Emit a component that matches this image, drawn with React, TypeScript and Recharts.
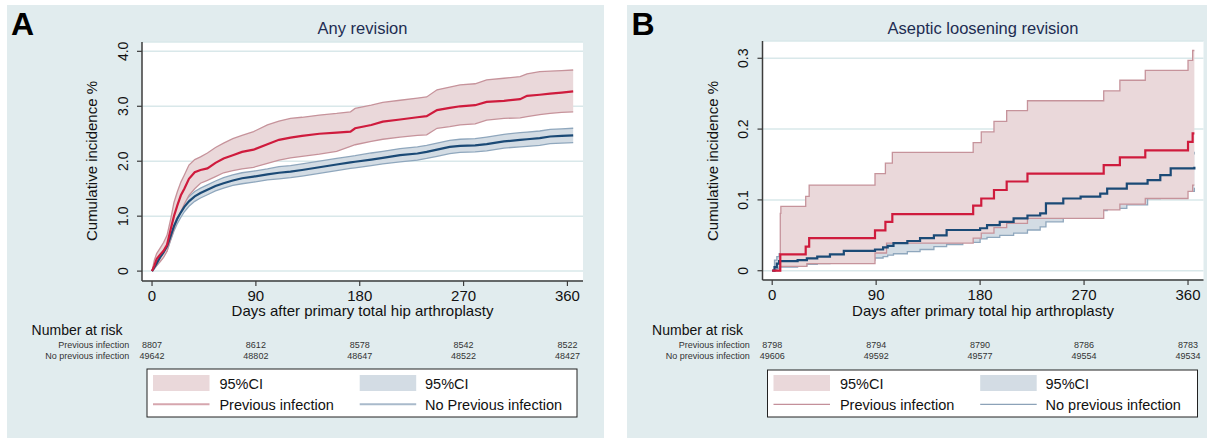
import React from "react";
import { ComposedChart, Line, Area, XAxis, YAxis, CartesianGrid } from "recharts";

const FONT = "'Liberation Sans', Arial, Helvetica, sans-serif";

// ---------- Panel A: Any revision (cumulative incidence %) ----------
const daysA = [0, 2, 4, 7, 10, 13, 16, 19, 22, 25, 28, 32, 37, 42, 48, 55, 62, 70, 78, 88, 100, 110, 120, 130, 145, 160, 172, 176, 190, 200, 215, 230, 238, 247, 258, 267, 280, 290, 305, 319, 325, 336, 345, 355, 365];
const prevA = [0, 0.1, 0.22, 0.3, 0.37, 0.48, 0.75, 1.0, 1.2, 1.38, 1.5, 1.68, 1.8, 1.84, 1.87, 1.97, 2.05, 2.11, 2.17, 2.21, 2.31, 2.39, 2.43, 2.46, 2.5, 2.52, 2.54, 2.6, 2.66, 2.72, 2.76, 2.8, 2.82, 2.93, 2.97, 3.0, 3.02, 3.08, 3.1, 3.13, 3.19, 3.21, 3.23, 3.25, 3.27];
const prevHiA = [0, 0.2, 0.32, 0.42, 0.52, 0.65, 0.93, 1.25, 1.45, 1.62, 1.75, 1.93, 2.03, 2.08, 2.15, 2.25, 2.33, 2.41, 2.47, 2.54, 2.66, 2.73, 2.78, 2.8, 2.84, 2.87, 2.9, 2.96, 3.02, 3.07, 3.11, 3.15, 3.17, 3.3, 3.35, 3.39, 3.41, 3.48, 3.51, 3.54, 3.59, 3.63, 3.64, 3.65, 3.66];
const prevLoA = [0, 0.05, 0.1, 0.17, 0.25, 0.36, 0.57, 0.76, 0.95, 1.08, 1.22, 1.38, 1.5, 1.6, 1.65, 1.72, 1.79, 1.83, 1.86, 1.89, 1.96, 2.02, 2.06, 2.09, 2.13, 2.18, 2.27, 2.3, 2.36, 2.4, 2.44, 2.47, 2.48, 2.6, 2.63, 2.66, 2.68, 2.75, 2.78, 2.79, 2.81, 2.85, 2.87, 2.89, 2.9];
const noPrevA = [0, 0.07, 0.14, 0.25, 0.34, 0.45, 0.63, 0.82, 0.96, 1.07, 1.17, 1.27, 1.36, 1.42, 1.48, 1.55, 1.6, 1.65, 1.69, 1.72, 1.76, 1.79, 1.81, 1.84, 1.89, 1.94, 1.98, 1.99, 2.03, 2.06, 2.11, 2.14, 2.17, 2.21, 2.26, 2.28, 2.29, 2.31, 2.36, 2.39, 2.4, 2.42, 2.45, 2.46, 2.47];
const noPrevHiA = [0, 0.1, 0.19, 0.31, 0.41, 0.53, 0.71, 0.91, 1.05, 1.16, 1.26, 1.36, 1.45, 1.51, 1.57, 1.64, 1.7, 1.75, 1.79, 1.82, 1.86, 1.9, 1.92, 1.95, 2.0, 2.05, 2.09, 2.1, 2.15, 2.18, 2.23, 2.26, 2.29, 2.33, 2.38, 2.4, 2.41, 2.44, 2.49, 2.52, 2.53, 2.55, 2.58, 2.59, 2.6];
const noPrevLoA = [0, 0.04, 0.1, 0.19, 0.27, 0.37, 0.55, 0.73, 0.87, 0.98, 1.08, 1.18, 1.27, 1.33, 1.39, 1.46, 1.51, 1.56, 1.59, 1.62, 1.66, 1.68, 1.7, 1.73, 1.78, 1.83, 1.87, 1.88, 1.92, 1.95, 1.99, 2.02, 2.05, 2.09, 2.14, 2.16, 2.17, 2.19, 2.24, 2.26, 2.27, 2.29, 2.32, 2.33, 2.34];

// ---------- Panel B: Aseptic loosening revision (step functions) ----------
const prevDaysB = [0, 7, 29, 32, 89, 98, 104, 174, 181, 192, 203, 221, 287, 301, 323, 360, 364, 365.5];
const prevB = [0, 0.023, 0.034, 0.046, 0.057, 0.069, 0.08, 0.092, 0.102, 0.114, 0.126, 0.137, 0.149, 0.16, 0.17, 0.182, 0.194, 0.194];
const prevCIDaysB = [0, 7, 7.5, 29, 30, 32, 89, 98, 99, 104, 174, 181, 192, 203, 221, 287, 301, 323, 360, 364, 365.5];
const prevHiB = [0, 0.081, 0.091, 0.105, 0.105, 0.121, 0.137, 0.152, 0.152, 0.167, 0.181, 0.196, 0.211, 0.226, 0.24, 0.254, 0.269, 0.283, 0.297, 0.311, 0.311];
const prevLoB = [0, 0.006, 0.006, 0.006, 0.01, 0.01, 0.025, 0.025, 0.039, 0.039, 0.046, 0.053, 0.061, 0.067, 0.074, 0.086, 0.094, 0.102, 0.112, 0.121, 0.121];
const noPrevDaysB = [0, 2, 4, 6, 22, 30, 39, 50, 62, 75, 89, 96, 100, 105, 117, 128, 140, 151, 165, 180, 186, 197, 209, 221, 232, 237, 252, 267, 284, 290, 307, 325, 336, 345, 365.5];
const noPrevB = [0, 0.005, 0.01, 0.0135, 0.015, 0.0175, 0.02, 0.023, 0.028, 0.028, 0.03, 0.033, 0.035, 0.039, 0.042, 0.046, 0.05, 0.0575, 0.0575, 0.06, 0.0645, 0.069, 0.074, 0.078, 0.081, 0.095, 0.102, 0.1045, 0.109, 0.116, 0.123, 0.128, 0.135, 0.1446, 0.147];
const noPrevLoB = [0, 0.001, 0.003, 0.005, 0.007, 0.009, 0.01, 0.011, 0.013, 0.015, 0.018, 0.02, 0.022, 0.024, 0.027, 0.03, 0.034, 0.037, 0.04, 0.045, 0.047, 0.05, 0.053, 0.0575, 0.062, 0.069, 0.076, 0.08, 0.085, 0.088, 0.093, 0.102, 0.106, 0.112, 0.117];
const noPrevHiB = [0, 0.015, 0.02, 0.024, 0.025, 0.028, 0.031, 0.034, 0.04, 0.04, 0.042, 0.046, 0.048, 0.053, 0.056, 0.06, 0.065, 0.072, 0.072, 0.075, 0.08, 0.086, 0.09, 0.095, 0.099, 0.112, 0.12, 0.122, 0.128, 0.135, 0.142, 0.148, 0.156, 0.165, 0.168];

// ---------- Axis ticks & risk tables ----------
const xTicks = [0, 90, 180, 270, 360];
const yTicksA = [0, 1, 2, 3, 4];
const yTicksB = [0, 0.1, 0.2, 0.3];
const riskRowLabels = ["Previous infection", "No previous infection"];
const riskPrevA = ["8807", "8612", "8578", "8542", "8522"];
const riskNoPrevA = ["49642", "48802", "48647", "48522", "48427"];
const riskPrevB = ["8798", "8794", "8790", "8786", "8783"];
const riskNoPrevB = ["49606", "49592", "49577", "49554", "49534"];
const legendLabelsA = ["95%CI", "95%CI", "Previous infection", "No Previous infection"];
const legendLabelsB = ["95%CI", "95%CI", "Previous infection", "No previous infection"];

const COL = {
  bg: "#e1ecee",
  redLine: "#cf1b3d",
  blueLine: "#1b4a76",
  redFill: "#ead8da",
  redEdge: "#c6939b",
  blueFill: "#d3dce4",
  blueEdge: "#8fa7bd",
  grid: "#d9e8ea",
  axis: "#3c3c3c",
  title: "#1e2d52",
  text: "#111111",
};

const tableA = daysA.map((d, i) => ({
  day: d,
  prev: prevA[i],
  prevBand: [prevLoA[i], prevHiA[i]],
  noPrev: noPrevA[i],
  noPrevBand: [noPrevLoA[i], noPrevHiA[i]],
}));
const redLineB = prevDaysB.map((d, i) => ({ day: d, v: prevB[i] }));
const redBandB = prevCIDaysB.map((d, i) => ({ day: d, band: [prevLoB[i], prevHiB[i]] }));
const blueB = noPrevDaysB.map((d, i) => ({ day: d, v: noPrevB[i], band: [noPrevLoB[i], noPrevHiB[i]] }));

const xDomainA: [number, number] = [-8.7, 373.5];
const yDomainA: [number, number] = [-0.18, 4.17];
const xDomainB: [number, number] = [-8.4, 373.4];
const yDomainB: [number, number] = [-0.0131, 0.3244];

const CH_W = 620;
const CH_H = 330;

const fmtY = (v: number) => (v === 0 ? "0" : v.toFixed(1));

const YTick = (props: any) => {
  const { x, y, payload } = props;
  const bx = x - 7;
  return (
    <text
      x={bx}
      y={y}
      transform={`rotate(-90 ${bx} ${y})`}
      textAnchor="middle"
      fontSize={14}
      fill={COL.text}
      fontFamily={FONT}
    >
      {fmtY(payload.value)}
    </text>
  );
};

const axisCommon = {
  axisLine: { stroke: COL.axis, strokeWidth: 1.5 },
  tickLine: { stroke: COL.axis, strokeWidth: 1.2 },
  tickSize: 5,
};

function ChartA() {
  return (
    <ComposedChart
      width={CH_W}
      height={CH_H}
      data={tableA}
      margin={{ top: 42, right: CH_W - 583, bottom: CH_H - 281 - 30, left: 142 - 50 }}
    >
      <CartesianGrid vertical={false} stroke={COL.grid} strokeWidth={1.5} fill="#ffffff" fillOpacity={1} />
      <XAxis
        type="number"
        dataKey="day"
        domain={xDomainA}
        ticks={xTicks}
        allowDataOverflow
        height={30}
        tickMargin={4}
        tick={{ fontSize: 15, fill: COL.text, fontFamily: FONT }}
        {...axisCommon}
      />
      <YAxis
        type="number"
        domain={yDomainA}
        ticks={yTicksA}
        allowDataOverflow
        width={50}
        tickMargin={2}
        tick={(p: any) => <YTick {...p} />}
        {...axisCommon}
      />
      <Area type="linear" dataKey="noPrevBand" stroke={COL.blueEdge} strokeWidth={1.3} fill={COL.blueFill} fillOpacity={1} dot={false} activeDot={false} isAnimationActive={false} />
      <Area type="linear" dataKey="prevBand" stroke={COL.redEdge} strokeWidth={1.3} fill={COL.redFill} fillOpacity={1} dot={false} activeDot={false} isAnimationActive={false} />
      <Line type="linear" dataKey="noPrev" stroke={COL.blueLine} strokeWidth={2.2} dot={false} activeDot={false} isAnimationActive={false} />
      <Line type="linear" dataKey="prev" stroke={COL.redLine} strokeWidth={2.2} dot={false} activeDot={false} isAnimationActive={false} />
    </ComposedChart>
  );
}

function ChartB() {
  return (
    <ComposedChart
      width={CH_W}
      height={CH_H}
      margin={{ top: 41, right: CH_W - 583.5, bottom: CH_H - 280 - 30, left: 142.5 - 50 }}
    >
      <CartesianGrid vertical={false} stroke={COL.grid} strokeWidth={1.5} fill="#ffffff" fillOpacity={1} />
      <XAxis
        type="number"
        dataKey="day"
        domain={xDomainB}
        ticks={xTicks}
        allowDataOverflow
        height={30}
        tickMargin={4}
        tick={{ fontSize: 15, fill: COL.text, fontFamily: FONT }}
        {...axisCommon}
      />
      <YAxis
        type="number"
        domain={yDomainB}
        ticks={yTicksB}
        allowDataOverflow
        width={50}
        tickMargin={2}
        tick={(p: any) => <YTick {...p} />}
        {...axisCommon}
      />
      <Area data={blueB} type="stepAfter" dataKey="band" stroke={COL.blueEdge} strokeWidth={1.3} fill={COL.blueFill} fillOpacity={1} dot={false} activeDot={false} isAnimationActive={false} />
      <Area data={redBandB} type="stepAfter" dataKey="band" stroke={COL.redEdge} strokeWidth={1.3} fill={COL.redFill} fillOpacity={1} dot={false} activeDot={false} isAnimationActive={false} />
      <Line data={blueB} type="stepAfter" dataKey="v" stroke={COL.blueLine} strokeWidth={2.2} dot={false} activeDot={false} isAnimationActive={false} />
      <Line data={redLineB} type="stepAfter" dataKey="v" stroke={COL.redLine} strokeWidth={2.2} dot={false} activeDot={false} isAnimationActive={false} />
    </ComposedChart>
  );
}

type PanelText = {
  ox: number;
  letter: string;
  title: string;
  titleSize: number;
  plotL: number;
  plotR: number;
  xDomain: [number, number];
  riskPrev: string[];
  riskNo: string[];
  legend: string[];
  legendTop: number;
  legendLineW: number;
  legendRed: string;
  legendBlue: string;
};

const panels: PanelText[] = [
  {
    ox: 0, letter: "A", title: "Any revision", titleSize: 16.5, plotL: 142, plotR: 583, xDomain: xDomainA,
    riskPrev: riskPrevA, riskNo: riskNoPrevA, legend: legendLabelsA, legendTop: 369,
    legendLineW: 2, legendRed: "#d6a6ae", legendBlue: "#a9bacb",
  },
  {
    ox: 620.5, letter: "B", title: "Aseptic loosening revision", titleSize: 16.5, plotL: 762.5, plotR: 1203.5, xDomain: xDomainB,
    riskPrev: riskPrevB, riskNo: riskNoPrevB, legend: legendLabelsB, legendTop: 370,
    legendLineW: 1.3, legendRed: "#c4909a", legendBlue: "#8ca2b8",
  },
];

function Overlay() {
  return (
    <svg width={1222} height={439} style={{ position: "absolute", left: 0, top: 0, pointerEvents: "none" }} fontFamily={FONT}>
      {panels.map((p) => {
        const cx = (p.plotL + p.plotR) / 2;
        const sx = (t: number) => p.plotL + ((t - p.xDomain[0]) / (p.xDomain[1] - p.xDomain[0])) * (p.plotR - p.plotL);
        const o = p.ox;
        const ylx = 97 + o;
        return (
          <g key={p.letter}>
            <text x={11 + o} y={35} fontSize={32} fontWeight="bold" fill="#000">{p.letter}</text>
            <text x={cx} y={34} fontSize={p.titleSize} textAnchor="middle" fill={COL.title}>{p.title}</text>
            <text x={ylx} y={161} fontSize={15} textAnchor="middle" fill={COL.text} transform={`rotate(-90 ${ylx} 161)`}>Cumulative incidence %</text>
            <text x={cx} y={316} fontSize={15} textAnchor="middle" fill={COL.text}>Days after primary total hip arthroplasty</text>
            <text x={31.6 + o} y={335} fontSize={14} fill={COL.text}>Number at risk</text>
            <text x={129.2 + o} y={347.5} fontSize={9} textAnchor="end" fill="#333">{riskRowLabels[0]}</text>
            <text x={129.2 + o} y={359} fontSize={9} textAnchor="end" fill="#333">{riskRowLabels[1]}</text>
            {xTicks.map((t, i) => (
              <g key={t}>
                <text x={sx(t)} y={347.5} fontSize={9} textAnchor="middle" fill="#333">{p.riskPrev[i]}</text>
                <text x={sx(t)} y={359} fontSize={9} textAnchor="middle" fill="#333">{p.riskNo[i]}</text>
              </g>
            ))}
            <rect x={147 + o} y={p.legendTop} width={430} height={417 - p.legendTop} fill="#fff" stroke="#222" strokeWidth={1} />
            <rect x={153 + o} y={375} width={56.5} height={16} fill={COL.redFill} />
            <rect x={359.7 + o} y={375} width={56.5} height={16} fill={COL.blueFill} />
            <line x1={153 + o} x2={209.5 + o} y1={404.3} y2={404.3} stroke={p.legendRed} strokeWidth={p.legendLineW} />
            <line x1={359.7 + o} x2={416.2 + o} y1={404.3} y2={404.3} stroke={p.legendBlue} strokeWidth={p.legendLineW} />
            <text x={219.4 + o} y={388.5} fontSize={14.5} fill={COL.text}>{p.legend[0]}</text>
            <text x={425 + o} y={388.5} fontSize={14.5} fill={COL.text}>{p.legend[1]}</text>
            <text x={219.4 + o} y={409.5} fontSize={14.5} fill={COL.text}>{p.legend[2]}</text>
            <text x={425 + o} y={409.5} fontSize={14.5} fill={COL.text}>{p.legend[3]}</text>
          </g>
        );
      })}
    </svg>
  );
}

export default function App() {
  return (
    <div style={{ position: "absolute", left: 0, top: 0, width: 1222, height: 439, background: "#fff", fontFamily: FONT }}>
      <div style={{ position: "absolute", left: 7, top: 5, width: 597, height: 433, background: COL.bg }} />
      <div style={{ position: "absolute", left: 627, top: 5, width: 580, height: 433, background: COL.bg }} />
      <div style={{ position: "absolute", left: 0, top: 0 }}>
        <ChartA />
      </div>
      <div style={{ position: "absolute", left: 620, top: 0 }}>
        <ChartB />
      </div>
      <Overlay />
    </div>
  );
}
